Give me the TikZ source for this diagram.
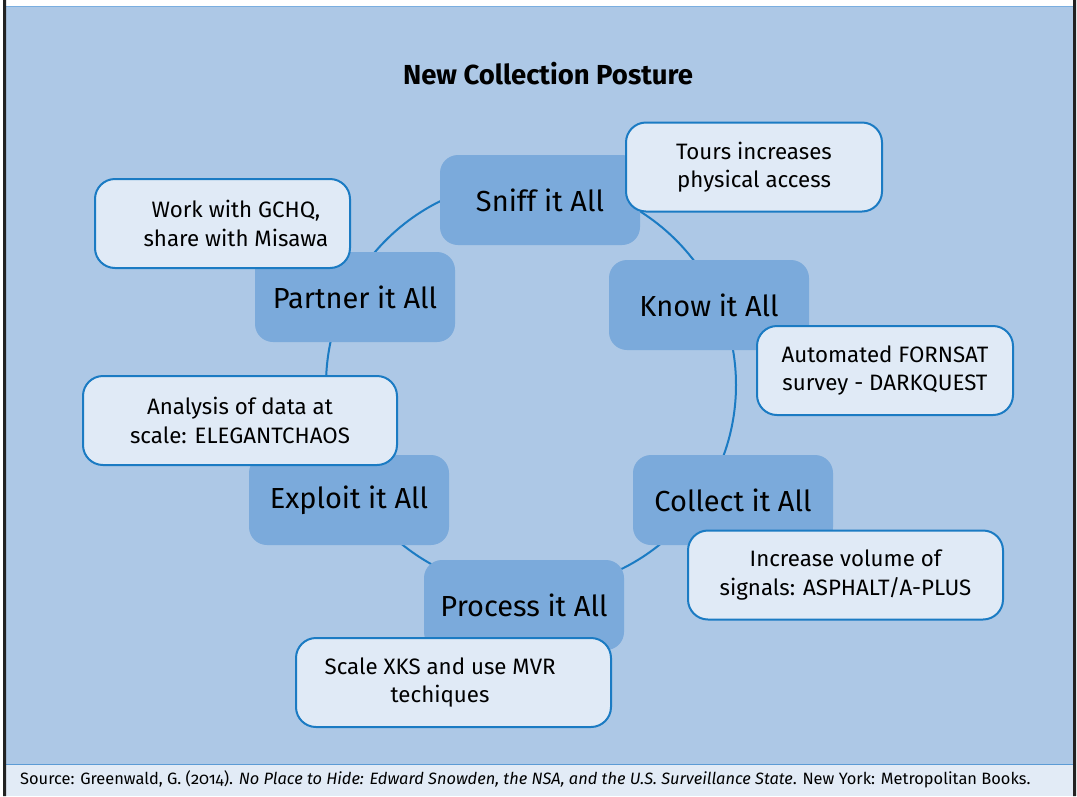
\documentclass[tikz,border=0pt]{standalone}
\usepackage{fontspec}
\setmainfont{Fira Sans}
\usetikzlibrary{positioning}
\definecolor{cbg}{HTML}{ADC8E6}
\definecolor{cphase}{HTML}{7BAADB}
\definecolor{cnote}{HTML}{E0EAF6}
\definecolor{cline}{HTML}{1B7BC3}
\definecolor{cfoot}{HTML}{E2EBF6}
\definecolor{cfootline}{HTML}{5B9BD5}
\definecolor{ctopline}{HTML}{7AAEE0}
\definecolor{cframe}{HTML}{222222}
\tikzset{
  phase/.style={rectangle, rounded corners=18pt, fill=cphase, minimum width=200pt,
                minimum height=90pt, font=\fontsize{29}{34}\selectfont},
  note/.style={rectangle, rounded corners=20pt, draw=cline, line width=2pt, fill=cnote,
               align=center, minimum height=89pt, font=\fontsize{22.3}{28.5}\selectfont},
  ring/.style={draw=cline, line width=2pt}
}

\begin{document}
\begin{tikzpicture}[x=1pt,y=-1pt]
\useasboundingbox (0,0) rectangle (1077,796);
% frame and background
\fill[white] (0,0) rectangle (1077,796);
\fill[cbg] (4,7) rectangle (1073,764);
\draw[ctopline, line width=1.5pt] (4,6.5) -- (1073,6.5);
\fill[cfoot] (4,765) rectangle (1073,796);
\draw[cfootline, line width=1.5pt] (4,764.5) -- (1073,764.5);
\fill[cframe] (3,0) rectangle (6,796) (1073,0) rectangle (1076,796);
\node[font=\fontsize{27.5}{32}\bfseries] (title) at (548,74) {New Collection Posture};
% cycle
\draw[ring] (531,385) circle[radius=205pt];
\node[phase] (sniff) at (540,200) {Sniff it All};
\node[phase] (know) at (709,305) {Know it All};
\node[phase] (collect) at (733,500) {Collect it All};
\node[phase] (process) at (524,605) {Process it All};
\node[phase] (exploit) at (349,500) {Exploit it All};
\node[phase] (partner) at (355,297) {Partner it All};
% callouts
\node[note, minimum width=256pt] (tours) at (754,167) {Tours increases\\physical access};
\node[note, minimum width=255pt] (gchq) at (222.5,223.5) {\hspace*{1.2em}Work with GCHQ,\\\hspace*{1.2em}share with Misawa};
\node[note, minimum width=256pt] (fornsat) at (885,370.5) {Automated FORNSAT\\survey - DARKQUEST};
\node[note, minimum width=314pt] (chaos) at (240,420.5) {Analysis of data at\\scale: ELEGANTCHAOS};
\node[note, minimum width=315pt] (asphalt) at (845.5,575) {Increase volume of\\signals: ASPHALT/A-PLUS};
\node[note, minimum width=315pt] (xks) at (453.5,682.5) {Scale XKS and use MVR\hspace*{1.2em}\\techiques\hspace*{1.2em}};
% source line
\node[anchor=west, inner sep=0pt, font=\fontsize{16.4}{20}\selectfont] (source) at (20,779)
  {Source: Greenwald, G. ({\addfontfeature{Numbers=OldStyle}2014}). \textit{No Place to Hide: Edward Snowden, the NSA, and the U.S. Surveillance State}. New York: Metropolitan Books.};
\end{tikzpicture}
\end{document}
